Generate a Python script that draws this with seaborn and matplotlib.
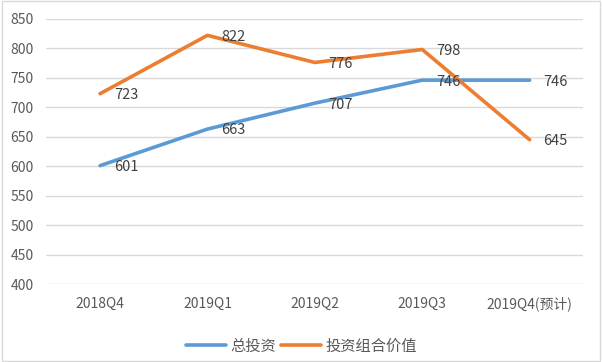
import pandas as pd
import matplotlib
matplotlib.use("Agg")
import matplotlib.pyplot as plt
import seaborn as sns

# Data
quarters = ["2018Q4", "2019Q1", "2019Q2", "2019Q3", "2019Q4(预计)"]
total_invest = [601, 663, 707, 746, 746]
portfolio_value = [723, 822, 776, 798, 645]
series_names = ["总投资", "投资组合价值"]
colors = ["#5B9BD5", "#ED7D31"]

df = pd.DataFrame({
    "quarter": quarters * 2,
    "value": total_invest + portfolio_value,
    "series": [series_names[0]] * len(quarters) + [series_names[1]] * len(quarters),
})

sns.set_style("white")
plt.rcParams["font.family"] = ["Noto Sans CJK SC", "DejaVu Sans"]

fig = plt.figure(figsize=(6.02, 3.62), dpi=100)
ax = fig.add_axes([0.077, 0.215, 0.892, 0.733])

sns.lineplot(data=df, x="quarter", y="value", hue="series",
             palette=colors, linewidth=2.6, ax=ax, sort=False)

# data labels to the right of each point
for name, vals in zip(series_names, [total_invest, portfolio_value]):
    for i, v in enumerate(vals):
        ax.annotate(str(v), (i, v), xytext=(10, -1), textcoords="offset points",
                    ha="left", va="center", fontsize=10.5, color="#404040")

ax.set_xlim(-0.5, 4.5)
ax.set_ylim(400, 850)
ax.set_yticks(range(400, 851, 50))
ax.grid(axis="y", color="#D9D9D9", linewidth=1)
ax.set_axisbelow(True)
for s in ax.spines.values():
    s.set_visible(False)
ax.tick_params(axis="both", length=0, labelsize=10, labelcolor="#595959")
ax.tick_params(axis="x", pad=9)
ax.tick_params(axis="y", pad=9)
ax.set_xlabel("")
ax.set_ylabel("")

leg = ax.legend(loc="upper center", bbox_to_anchor=(0.475, -0.15), ncol=2,
                frameon=False, fontsize=11, handlelength=2.6,
                columnspacing=0.3, handletextpad=0.3)
for t in leg.get_texts():
    t.set_color("#595959")
for h in leg.get_lines():
    h.set_linewidth(2.6)

# light frame around the whole chart
fig.patches.append(plt.Rectangle((0.003, 0.004), 0.994, 0.992, transform=fig.transFigure,
                                 fill=False, edgecolor="#D9D9D9", linewidth=1))

fig.savefig("out.png", dpi=100)
